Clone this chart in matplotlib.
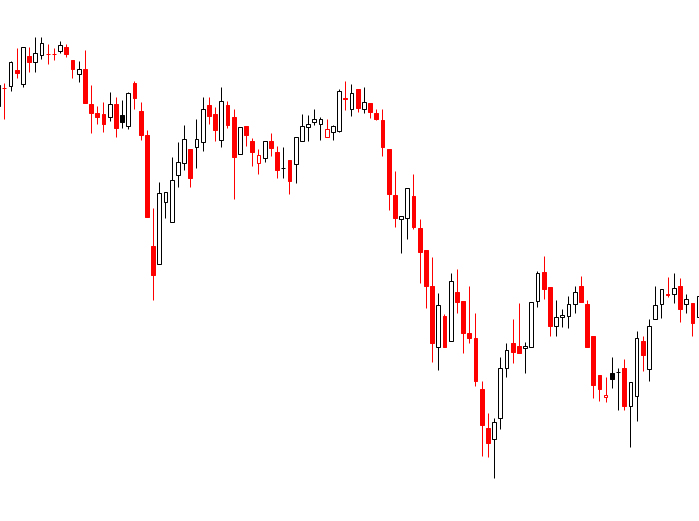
# --------------------------------------------------------------------------- #
#  Hollow candlestick chart (no axes), saved as out.png                       #
#  Hollow = close above open, filled = close below open.                      #
#  Red = close below previous close, black = close above previous close.      #
# --------------------------------------------------------------------------- #
import numpy as np
import matplotlib
matplotlib.use('Agg')
import matplotlib.pyplot as plt
from matplotlib.patches import Rectangle

# --------------------------------------------------------------------------- #
# Price data, one entry per bar.
opens = [494, 512.5, 514, 530, 515.7, 544, 537.7, 544.7, 546.3, 546.2,
         548.7, 552.7, 540, 525.7, 530.7, 496, 486.7, 486, 482.7, 495.7,
         485, 474.3, 516.7, 489, 465, 354, 335.7, 397.7, 378.3, 425,
         436.7, 451, 452.7, 458.3, 495, 485.7, 459.7, 495, 483, 445.7,
         474, 459, 436.7, 441.7, 459, 447.7, 432.5, 440, 435.7, 459,
         472.7, 477.7, 475.7, 463.3, 467.7, 469.3, 502, 491, 511, 491,
         496.7, 486.7, 480, 451, 405, 380.7, 381.7, 404, 371.7, 350,
         314.3, 252.7, 284, 259.3, 307.7, 299, 267.3, 262.3, 211, 172.3,
         160.7, 181.7, 231.7, 257.3, 254, 251.7, 253.3, 299.3, 327.7, 312.7,
         274, 282.7, 284, 296, 314, 296, 264, 225, 202.7, 226.7,
         228, 231.7, 194.3, 204.3, 259, 230.7, 280.7, 296, 305.7, 305.7,
         314, 295.7, 297.3, 283.3]
highs = [517, 517.3, 539, 551.7, 553, 552.7, 563.3, 563.3, 556, 551.7,
         559.3, 556, 540, 538.7, 550, 515, 494, 498.3, 507.7, 503.3,
         500, 508.3, 519, 497.7, 470, 391.7, 417.7, 407.7, 443, 458.3,
         475, 451, 481, 502.7, 502.7, 493, 512.7, 499, 491, 473.3,
         474, 461.7, 451, 459, 466.7, 454, 453.3, 440, 462.7, 486,
         485, 491, 482.7, 481, 475, 511, 519, 515.7, 511, 512.7,
         496.7, 490.7, 491, 451, 429, 384.3, 411.7, 426, 381, 350,
         343.3, 306.7, 286, 326.7, 331, 299, 314.3, 287.3, 219, 187.3,
         181.7, 242.7, 257.3, 281, 297.3, 258.3, 297.7, 329.3, 344, 312.7,
         300, 290.7, 304, 314, 324, 300, 264, 225, 223.3, 242.7,
         231.7, 241, 218.3, 269, 264, 280.7, 314, 310.7, 323.3, 326.7,
         322.3, 306, 297.3, 310]
lows = [492, 481, 509.3, 521.7, 513.3, 527.7, 527.7, 540.7, 535.7, 540,
        547.3, 543.3, 522.3, 517.7, 496.7, 467.3, 475.7, 468.3, 479.3, 463.3,
        472.3, 471, 490.7, 460, 383.3, 300, 335.7, 382.3, 377.7, 413.3,
        430, 413.3, 432.3, 449, 476, 459.3, 453.3, 471.7, 401, 445.7,
        454.3, 434.3, 426, 437.7, 444.3, 421.7, 421.7, 405.7, 416.7, 459,
        459.3, 475, 460, 463.3, 460, 467.7, 490, 484.3, 487.7, 486.7,
        481.7, 480, 444.3, 390, 373.3, 347.3, 360.7, 370.7, 316.7, 291.7,
        237.7, 230, 253.3, 259.3, 286.7, 246.7, 256.7, 214.3, 144.3, 143.3,
        121.7, 170.7, 223.3, 237.3, 246.7, 227.3, 253.3, 292.7, 300.7, 264.3,
        264.3, 273.3, 272.3, 286.7, 297.7, 253.3, 202.3, 199.3, 198.3, 212.3,
        190, 190, 153.3, 179.3, 229, 219.3, 280.7, 281.7, 303.3, 297.3,
        278.3, 286.7, 264, 282]
closes = [515, 512, 537.7, 526.7, 552.7, 537.7, 546.7, 556.7, 545.8, 545.7,
          555.3, 545.7, 530.7, 531, 496.7, 487.3, 483.3, 475.7, 496, 472.3,
          478.3, 506.7, 501.7, 465, 383.3, 325, 406.7, 407.7, 419.7, 438.3,
          460.7, 422.3, 460.7, 490.7, 484.3, 470, 498.7, 475, 443.3, 473.3,
          465, 448.3, 445, 459, 452.3, 430, 432.2, 419, 462.7, 474,
          475.7, 480.7, 481, 471, 474, 509, 501.5, 506.7, 491.7, 498.3,
          487.7, 481, 453.3, 405.7, 382.3, 384.3, 411.7, 373.3, 347.7, 314.3,
          257.3, 295, 253.3, 319, 298.3, 267.3, 262.3, 219.3, 175, 156.7,
          177.7, 231.7, 250, 248.3, 246.7, 254, 297.7, 326.7, 311, 274.3,
          283.3, 285, 295.7, 308.3, 297.7, 253.3, 215, 211, 205, 220.7,
          227.7, 194.3, 218.3, 261.7, 245, 274, 294.7, 310.7, 305.3, 311.7,
          291.3, 300.7, 277.3, 304]

# --------------------------------------------------------------------------- #
# Colours and sizes.
up_col = 'black'
down_col = '#ff0000'
body_w = 0.6
lw = 0.72   # one pixel at 100 dpi

# --------------------------------------------------------------------------- #
# Create a new figure window filling the whole canvas.
fig = plt.figure(figsize=(6.99, 5.21), dpi=100)
ax = fig.add_axes([0, 0, 1, 1])
ax.set_axis_off()

for i in range(len(opens)):
  o, h, l, c = opens[i], highs[i], lows[i], closes[i]
  prev = closes[i - 1] if i > 0 else o
  col = down_col if c < prev else up_col
  face = 'white' if c > o else col

  # Wick first so the hollow body covers it.
  ax.vlines(i, l, h, color=col, linewidth=lw, zorder=1)

  # Body.
  bot = min(o, c)
  ht = max(abs(c - o), 0.3)
  ax.add_patch(Rectangle((i - body_w / 2, bot), body_w, ht,
                         facecolor=face, edgecolor=col, linewidth=lw,
                         zorder=2))

# Match the visible window of the reference.
ax.set_xlim(0.306, 113.06)
ax.set_ylim(79, 600)

plt.savefig('out.png', dpi=100, facecolor='white')
